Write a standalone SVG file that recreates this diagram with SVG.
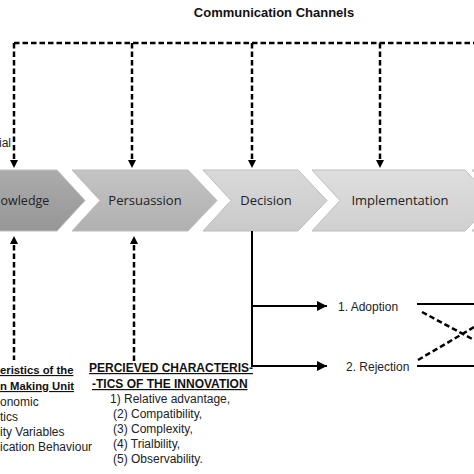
<svg xmlns="http://www.w3.org/2000/svg" width="474" height="474" viewBox="0 0 474 474">
<style>
.dash{fill:none;stroke:#000;stroke-width:2.5;stroke-dasharray:5.5 3}
.solid{fill:none;stroke:#000;stroke-width:2}
.chev{stroke:#bdbdbd;stroke-width:1}
.lbl{font-family:"Open Sans","Liberation Sans",sans-serif;font-size:13px;fill:#222;text-anchor:middle}
.t{font-family:"Liberation Sans",Arial,sans-serif;font-size:12px;fill:#222}
.tb{font-family:"Liberation Sans",Arial,sans-serif;font-size:12px;font-weight:bold;fill:#111;text-decoration:underline}
.head{fill:#000}
</style>
<defs>
<linearGradient id="g1" x1="0" y1="0" x2="0" y2="1"><stop offset="0" stop-color="#acacac"/><stop offset="1" stop-color="#969696"/></linearGradient>
<linearGradient id="g2" x1="0" y1="0" x2="0" y2="1"><stop offset="0" stop-color="#c4c4c4"/><stop offset="1" stop-color="#b0b0b0"/></linearGradient>
<linearGradient id="g3" x1="0" y1="0" x2="0" y2="1"><stop offset="0" stop-color="#d9d9d9"/><stop offset="1" stop-color="#cacaca"/></linearGradient>
<linearGradient id="g4" x1="0" y1="0" x2="0" y2="1"><stop offset="0" stop-color="#dedede"/><stop offset="1" stop-color="#d0d0d0"/></linearGradient>
<marker id="ah" viewBox="0 0 10 10" refX="10" refY="5" markerWidth="10" markerHeight="10" markerUnits="userSpaceOnUse" orient="auto"><path d="M0,0 L10,5 L0,10 Z" fill="#000"/></marker>
</defs>

<text x="274" y="17" font-family="Liberation Sans,Arial,sans-serif" font-size="13" font-weight="bold" fill="#111" text-anchor="middle">Communication Channels</text>
<text class="t" x="11" y="147" text-anchor="end">ial</text>

<g id="knowledge">
<path class="chev" fill="url(#g1)" d="M-10,170 L57,170 L85,200.5 L57,231 L-10,231 Z"/>
<text x="0.5" y="205" font-family="Open Sans,Liberation Sans,sans-serif" font-size="12.5" fill="#222">owledge</text>
</g>
<g id="persuasion">
<path class="chev" fill="url(#g2)" d="M72,170 L188,170 L217,200.5 L188,231 L72,231 L100,200.5 Z"/>
<text class="lbl" x="145" y="205">Persuassion</text>
</g>
<g id="decision">
<path class="chev" fill="url(#g3)" d="M203,170 L298,170 L327,200.5 L298,231 L203,231 L231,200.5 Z"/>
<text class="lbl" x="266" y="205">Decision</text>
</g>
<g id="implementation">
<path class="chev" fill="url(#g4)" d="M312,170 L465,170 L494,200.5 L465,231 L312,231 L340,200.5 Z"/>
<text class="lbl" x="400" y="205">Implementation</text>
</g>
<g id="confirmation">
<path class="chev" fill="url(#g4)" d="M472,170 L560,170 L560,231 L472,231 L500,200.5 Z"/>
</g>

<g id="connectors">
<path class="dash" d="M14,43 L474,43"/>
<path class="dash" d="M14,43 L14,161"/>
<path class="dash" d="M132,43 L132,161"/>
<path class="dash" d="M252,43 L252,161"/>
<path class="dash" d="M380,43 L380,161"/>
<path class="head" d="M10,160 L18,160 L14,168 Z"/>
<path class="head" d="M128,160 L136,160 L132,168 Z"/>
<path class="head" d="M248,160 L256,160 L252,168 Z"/>
<path class="head" d="M376,160 L384,160 L380,168 Z"/>

<path class="dash" d="M14,245 L14,360"/>
<path class="dash" d="M134,245 L134,362"/>
<path class="head" d="M10,244 L18,244 L14,236 Z"/>
<path class="head" d="M130,244 L138,244 L134,236 Z"/>

<path class="solid" d="M252,231 L252,366 L327,366" marker-end="url(#ah)"/>
<path class="solid" d="M252,306 L327,306" marker-end="url(#ah)"/>

<path class="solid" d="M417,304 L474,304"/>
<path class="solid" d="M417,366 L474,366"/>
<path class="dash" d="M422,312 L476,341"/>
<path class="dash" d="M418,360 L476,326"/>
</g>

<g id="adoption"><text class="t" x="338" y="311">1. Adoption</text></g>
<g id="rejection"><text class="t" x="346" y="371">2. Rejection</text></g>

<g id="decision-unit">
<text class="tb" x="0" y="374" font-size="11.3" style="font-size:11.3px">eristics of the</text>
<text class="tb" x="0" y="390" style="font-size:11.3px">n Making Unit</text>
<text class="t" x="0" y="406">onomic</text>
<text class="t" x="0" y="421">tics</text>
<text class="t" x="0" y="436">ity Variables</text>
<text class="t" x="0" y="451">ication Behaviour</text>
</g>

<g id="perceived">
<text class="tb" x="89" y="372">PERCIEVED CHARACTERIS-</text>
<text class="tb" x="92" y="388">-TICS OF THE INNOVATION</text>
<text class="t" x="110" y="403">1) Relative advantage,</text>
<text class="t" x="113" y="418">(2) Compatibility,</text>
<text class="t" x="113" y="433">(3) Complexity,</text>
<text class="t" x="113" y="448">(4) Trialbility,</text>
<text class="t" x="113" y="463">(5) Observability.</text>
</g>
</svg>
